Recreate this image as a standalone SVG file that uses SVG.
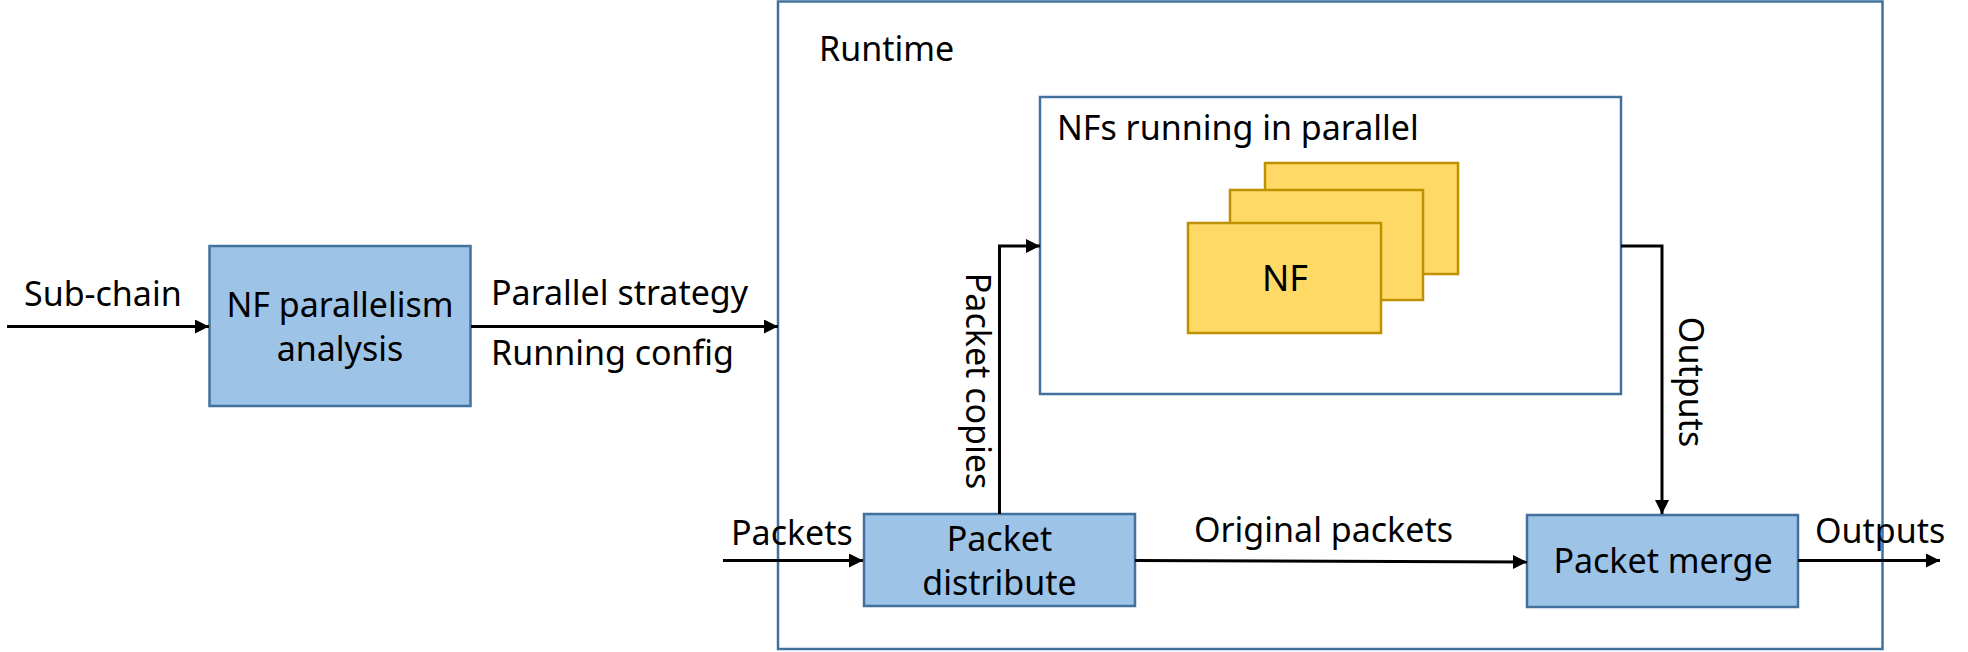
<svg xmlns="http://www.w3.org/2000/svg" width="1968" height="652" viewBox="0 0 1968 652">
<defs>
<style>
.t{font-family:"Noto Sans","Liberation Sans",Arial,sans-serif;font-size:34px;fill:#000}
.c{text-anchor:middle}
.big{font-size:36px}
.blue{fill:#9DC3E6;stroke:#41719C;stroke-width:2.5}
.frame{fill:none;stroke:#41719C;stroke-width:2.5}
.frameW{fill:#fff;stroke:#41719C;stroke-width:2.5}
.nf{fill:#FFD966;stroke:#BF9000;stroke-width:2.5}
.ln{fill:none;stroke:#000;stroke-width:3;marker-end:url(#ah)}
</style>
<marker id="ah" markerUnits="userSpaceOnUse" markerWidth="14" markerHeight="14" viewBox="0 0 12 12" refX="12" refY="6" orient="auto">
<path d="M0,0 L12,6 L0,12 z" fill="#000"/>
</marker>
</defs>
<rect width="1968" height="652" fill="#fff"/>
<g id="runtime">
<rect class="frame" x="778" y="1.5" width="1104.5" height="647.5"/>
<text class="t" x="819" y="61">Runtime</text>
</g>
<g id="nfs-parallel">
<rect class="frameW" x="1040" y="97" width="581" height="297"/>
<text class="t" x="1057" y="140">NFs running in parallel</text>
</g>
<g id="nf-stack">
<rect class="nf" x="1265" y="163" width="193" height="111"/>
<rect class="nf" x="1230" y="190" width="193" height="110"/>
<rect class="nf" x="1188" y="223" width="193" height="110"/>
<text class="t c big" x="1285" y="291">NF</text>
</g>
<g id="analysis">
<rect class="blue" x="209.5" y="246" width="261" height="160"/>
<text class="t c" x="340" y="317">NF parallelism</text>
<text class="t c" x="340" y="361">analysis</text>
</g>
<g id="distribute">
<rect class="blue" x="864" y="514" width="271" height="92"/>
<text class="t c" x="999.5" y="551">Packet</text>
<text class="t c" x="999.5" y="595">distribute</text>
</g>
<g id="merge">
<rect class="blue" x="1527" y="515" width="271" height="92"/>
<text class="t c" x="1663" y="573">Packet merge</text>
</g>
<g id="connectors">
<path class="ln" d="M7,326.5 H209"/>
<path class="ln" d="M471,326.5 H778"/>
<path class="ln" d="M723,560.5 H863"/>
<path class="ln" d="M999.5,514 V246 H1040"/>
<path class="ln" d="M1135,560.5 L1527,562"/>
<path class="ln" d="M1621,246 H1662 V514"/>
<path class="ln" d="M1798,560.5 H1940"/>
</g>
<g id="labels">
<text class="t" x="24" y="306">Sub-chain</text>
<text class="t" x="491" y="305">Parallel strategy</text>
<text class="t" x="491" y="365">Running config</text>
<text class="t" x="731" y="545">Packets</text>
<text class="t" x="1194" y="542">Original packets</text>
<text class="t" x="1815" y="543">Outputs</text>
<text class="t c" transform="translate(966,381) rotate(90)">Packet copies</text>
<text class="t c" transform="translate(1679,382) rotate(90)">Outputs</text>
</g>
</svg>
